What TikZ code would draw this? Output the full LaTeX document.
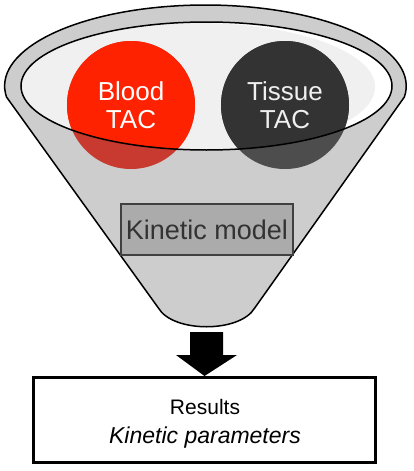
\documentclass[tikz,border=0pt]{standalone}
\usepackage{fontspec}
\setmainfont{Liberation Sans}
\definecolor{funnelgray}{HTML}{CDCDCD}
\definecolor{rimlight}{HTML}{F0F0F0}
\definecolor{bloodred}{HTML}{FF2200}
\definecolor{bloodshade}{HTML}{C8392F}
\definecolor{tissuedark}{HTML}{333333}
\definecolor{tissueshade}{HTML}{4D4D4D}
\definecolor{modelfill}{HTML}{ABABAB}
\definecolor{modeledge}{HTML}{404040}
\definecolor{modeltext}{HTML}{333333}
\begin{document}
\begin{tikzpicture}[x=1pt,y=-1pt,
  outline/.style={draw=black,line width=1.5pt},
  circtext/.style={align=center,inner sep=0pt,font=\fontsize{26}{28.5}\selectfont},
  modelbox/.style={draw=modeledge,fill=modelfill,line width=2pt,minimum width=172pt,minimum height=51pt,inner sep=0pt,text=modeltext,font=\fontsize{27}{30}\selectfont},
  resbox/.style={draw=black,line width=3pt,minimum width=342pt,minimum height=85pt,inner sep=0pt},
  restext/.style={align=center,inner sep=0pt,font=\fontsize{21}{29}\selectfont}]
\useasboundingbox (0,0) rectangle (413,471);
% funnel body
\path[fill=funnelgray,outline] (6.5,97) arc[start angle=172.2,end angle=367.8,x radius=200.8,y radius=81]
  -- (254.7,308) .. controls (240,333) and (173,333) .. (158.4,308) -- cycle;
% inner rim
\coordinate (rimc) at (206.5,86);
\begin{scope}
  \clip (rimc) ellipse[x radius=185.5,y radius=64];
  \fill[white] (rimc) ellipse[x radius=185.5,y radius=64];
  \fill[rimlight] (197,87) ellipse[x radius=178,y radius=64];
\end{scope}
% circles
\coordinate (bc) at (131,105);
\coordinate (tc) at (285,105);
\fill[bloodshade] (bc) circle[radius=64];
\fill[tissueshade] (tc) circle[radius=64];
\begin{scope}
  \clip (rimc) ellipse[x radius=185.5,y radius=64];
  \fill[bloodred] (bc) circle[radius=64];
  \fill[tissuedark] (tc) circle[radius=64];
\end{scope}
\draw[outline] (rimc) ellipse[x radius=185.5,y radius=64];
\node[circtext,text=white] (blood) at (bc) {Blood\\TAC};
\node[circtext,text=white!94!black] (tissue) at (tc) {Tissue\\TAC};
% kinetic model
\node[modelbox] (model) at (207,229.5) {Kinetic model};
% results
\node[resbox] (res) at (204.5,420) {};
\node[restext] (restxt) at (205,423.5) {Results\\{\fontsize{23}{29}\selectfont\itshape Kinetic parameters}};
% block arrow
\coordinate (atop) at (206.5,332);
\fill[black] ([xshift=-16.5pt]atop) -- ([xshift=16.5pt]atop) -- ([xshift=16.5pt,yshift=-23pt]atop)
  -- ([xshift=30.5pt,yshift=-23pt]atop) -- (res.north) -- ([xshift=-30.5pt,yshift=-23pt]atop)
  -- ([xshift=-16.5pt,yshift=-23pt]atop) -- cycle;
\end{tikzpicture}
\end{document}
